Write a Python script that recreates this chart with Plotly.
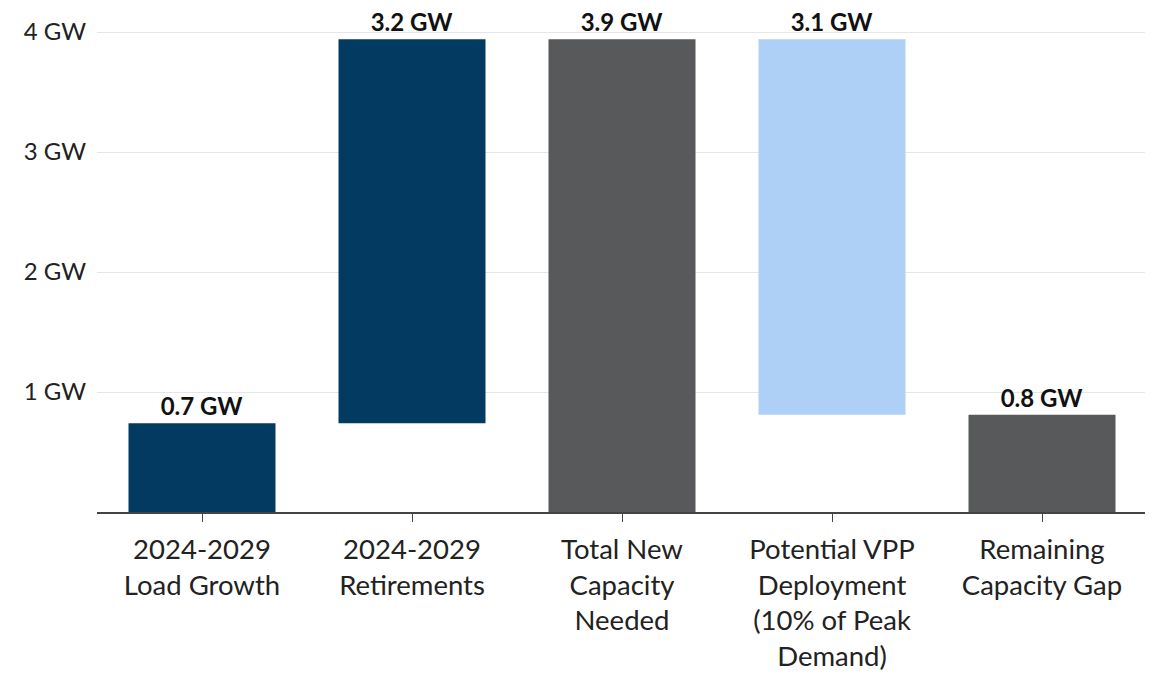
import plotly.graph_objects as go

categories = ["2024-2029<br>Load Growth", "2024-2029<br>Retirements", "Total New<br>Capacity<br>Needed",
              "Potential VPP<br>Deployment<br>(10% of Peak<br>Demand)", "Remaining<br>Capacity Gap"]
values = [0.74, 3.2, 3.94, 3.13, 0.81]
bases = [0, 0.74, 0, 0.81, 0]
colors = ["#023a62", "#023a62", "#58595b", "#aecff6", "#58595b"]
tick_values = [1, 2, 3, 4]
tick_labels = [f"{v} GW" for v in tick_values]

labels = [f"<b>{v:.1f} GW</b>" for v in values]

fig = go.Figure(go.Bar(
    x=categories, y=values, base=bases,
    marker=dict(color=colors, line=dict(width=0)),
    width=0.7,
    text=labels, textposition="outside",
    textfont=dict(family="Lato", size=24, color="#111111"),
    cliponaxis=False,
    hoverinfo="skip",
))

fig.update_layout(
    width=1145, height=670,
    margin=dict(l=89, r=6, t=6, b=166, autoexpand=False),
    plot_bgcolor="white", paper_bgcolor="white",
    font=dict(family="Lato", size=27.5, color="#222222"),
    showlegend=False,
    bargap=0.3,
)
fig.update_yaxes(range=[0, 4.15], tickvals=tick_values, ticktext=tick_labels,
                 tickfont=dict(size=24),
                 showgrid=True, gridcolor="#e6e6e6", gridwidth=1, automargin=False,
                 zeroline=False, showline=False, ticks="", ticklabelstandoff=10)
fig.update_xaxes(showline=True, linecolor="#444444", linewidth=1.5, automargin=False,
                 ticks="outside", ticklen=8, tickcolor="#444444", tickwidth=1,
                 ticklabelstandoff=4, showgrid=False)

fig.write_html("out.html")
